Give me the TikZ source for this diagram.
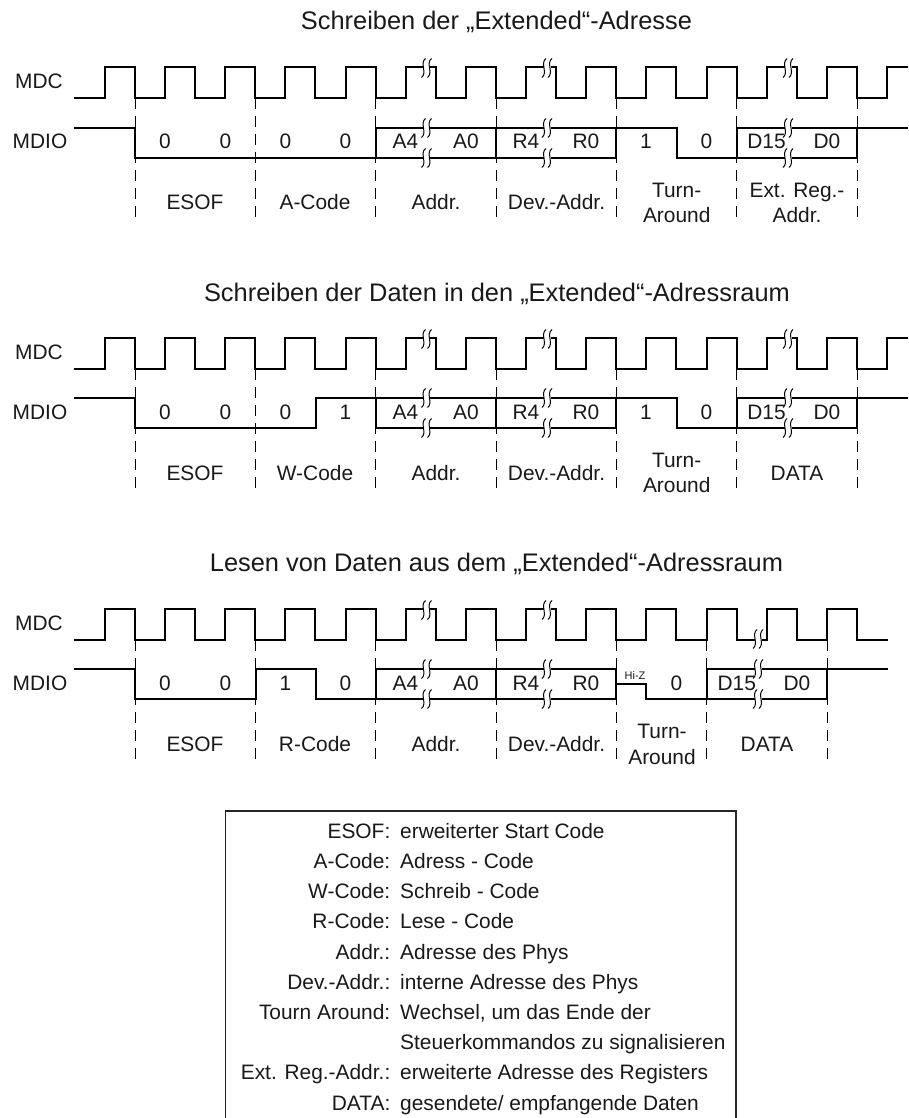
\documentclass[tikz,border=0pt]{standalone}
\usepackage{fontspec}
\setmainfont{Liberation Sans}
\newcommand{\BrkM}[2]{% x, y centre of a break mark
  \fill[white] ({#1-3},{#2-3}) rectangle ({#1+3.5},{#2+3});
  \draw[brk] ({#1-1},{#2-9.5}) .. controls ({#1-7},{#2-5}) and ({#1+1},{#2+5}) .. ({#1-5},{#2+9.5});
  \draw[brk] ({#1+5},{#2-9.5}) .. controls ({#1-1},{#2-5}) and ({#1+7},{#2+5}) .. ({#1+1},{#2+9.5});
}
\newcommand{\ClockTrain}{%
  (74,31) \foreach \n in {-1,1,...,23} { -- ({135+30.08*\n},31) -- ({135+30.08*\n},0) -- ({135+30.08*(\n+1)},0) -- ({135+30.08*(\n+1)},31) }%
}
\tikzset{
  sig/.style={line width=2pt,line join=miter,line cap=butt},
  sep/.style={line width=1pt,dash pattern=on 11pt off 7pt},
  brk/.style={line width=1pt},
  txt/.style={inner sep=0pt,anchor=base,font=\fontsize{20.9}{24}\selectfont,text=black!90},
  ttl/.style={txt,font=\fontsize{25.4}{30}\selectfont},
  ltxt/.style={txt,anchor=base west},
  rtxt/.style={txt,anchor=base east},
  hiz/.style={txt,font=\fontsize{11}{12}\selectfont},
  legendbox/.style={line width=1.2pt,draw=black!85},
}
\begin{document}
\begin{tikzpicture}[x=1pt,y=-1pt]
\useasboundingbox (0,0) rectangle (908,1118);

% ---------- Panel 1 ----------
\node[ttl] (title1) at (496.5,29.3) {Schreiben der „Extended“-Adresse};
\begin{scope}[shift={(0,67)}]
  \node[ltxt] (mdc1) at (15,21.5) {MDC};
  \node[ltxt] (mdio1) at (12.5,81.5) {MDIO};
  \foreach \x in {135,255.5,375.5,496,616,736.5,857} \draw[sep] (\x,31) -- (\x,151);
  \draw[sig] \ClockTrain -- (887,31) -- (887,0) -- (908,0);
  \draw[sig] (74,61) -- (135,61) -- (135,91) -- (616,91) -- (616,61) -- (676.5,61) -- (676.5,91) -- (857,91) -- (857,61) -- (908,61);
  \draw[sig] (375.5,91) -- (375.5,61) -- (616,61);
  \draw[sig] (496,61) -- (496,91);
  \draw[sig] (736.5,91) -- (736.5,61) -- (857,61);
  \foreach \x in {426.5,547,788} {\BrkM{\x}{1} \BrkM{\x}{61} \BrkM{\x}{91}}
  \foreach \x/\t/\m in {165/0/a,225.5/0/b,285.5/0/c,345.5/0/d,405.5/A4/e,466/A0/f,526/R4/g,586/R0/h,646/1/i,706.5/0/j,766.5/D15/k,827/D0/l}
    \node[txt] (bit1\m) at (\x,81.5) {\t};
  \node[txt] (lab1a) at (195,142.5) {ESOF};
  \node[txt] (lab1b) at (315,142.5) {A-Code};
  \node[txt] (lab1c) at (436,142.5) {Addr.};
  \node[txt] (lab1d) at (556.5,142.5) {Dev.-Addr.};
  \node[txt] (lab1e) at (676.7,130) {Turn-};
  \node[txt] (lab1f) at (676.7,155) {Around};
  \node[txt] (lab1g) at (797,130) {Ext. Reg.-};
  \node[txt] (lab1h) at (797,155) {Addr.};
\end{scope}

% ---------- Panel 2 ----------
\node[ttl] (title2) at (497,301.5) {Schreiben der Daten in den „Extended“-Adressraum};
\begin{scope}[shift={(0,338)}]
  \node[ltxt] (mdc2) at (15,21.5) {MDC};
  \node[ltxt] (mdio2) at (12.5,81.5) {MDIO};
  \foreach \x in {135,255.5,375.5,496,616,736.5,857} \draw[sep] (\x,31) -- (\x,151);
  \draw[sig] \ClockTrain -- (887,31) -- (887,0) -- (908,0);
  \draw[sig] (74,60) -- (135,60) -- (135,90) -- (315.5,90) -- (315.5,60) -- (676.5,60) -- (676.5,90) -- (857,90) -- (857,60) -- (908,60);
  \draw[sig] (375.5,60) -- (375.5,90) -- (616,90) -- (616,60);
  \draw[sig] (496,60) -- (496,90);
  \draw[sig] (736.5,90) -- (736.5,60) -- (857,60);
  \foreach \x in {426.5,547,788} {\BrkM{\x}{1} \BrkM{\x}{60} \BrkM{\x}{90}}
  \foreach \x/\t/\m in {165/0/a,225.5/0/b,285.5/0/c,345.5/1/d,405.5/A4/e,466/A0/f,526/R4/g,586/R0/h,646/1/i,706.5/0/j,766.5/D15/k,827/D0/l}
    \node[txt] (bit2\m) at (\x,81.5) {\t};
  \node[txt] (lab2a) at (195,142) {ESOF};
  \node[txt] (lab2b) at (315,142) {W-Code};
  \node[txt] (lab2c) at (436,142) {Addr.};
  \node[txt] (lab2d) at (556.5,142) {Dev.-Addr.};
  \node[txt] (lab2e) at (676.7,129.5) {Turn-};
  \node[txt] (lab2f) at (676.7,154.7) {Around};
  \node[txt] (lab2g) at (797,142) {DATA};
\end{scope}

% ---------- Panel 3 ----------
\node[ttl] (title3) at (496.5,571.7) {Lesen von Daten aus dem „Extended“-Adressraum};
\begin{scope}[shift={(0,609)}]
  \node[ltxt] (mdc3) at (15,21.5) {MDC};
  \node[ltxt] (mdio3) at (12.5,81.5) {MDIO};
  \foreach \x in {135,255.5,375.5,496,616,706.5,827} \draw[sep] (\x,31) -- (\x,151);
  \draw[sig] \ClockTrain -- (888,31);
  \draw[sig] (74,60) -- (135,60) -- (135,90) -- (255.5,90) -- (255.5,60) -- (315.5,60) -- (315.5,90) -- (375.5,90) -- (375.5,60) -- (616,60) -- (616,75) -- (646,75) -- (646,90) -- (706.5,90) -- (706.5,60) -- (888,60);
  \draw[sig] (375.5,90) -- (616,90) -- (616,75);
  \draw[sig] (496,60) -- (496,90);
  \draw[sig] (706.5,90) -- (827,90) -- (827,60);
  \foreach \x in {426.5,547} {\BrkM{\x}{1} \BrkM{\x}{60} \BrkM{\x}{90}}
  \BrkM{758}{30} \BrkM{758}{60} \BrkM{758}{90}
  \foreach \x/\t/\m in {165/0/a,225.5/0/b,285.5/1/c,345.5/0/d,405.5/A4/e,466/A0/f,526/R4/g,586/R0/h,676.5/0/j,736.7/D15/k,797/D0/l}
    \node[txt] (bit3\m) at (\x,81.5) {\t};
  \node[hiz] (hiz3) at (635,70) {Hi-Z};
  \node[txt] (lab3a) at (195,142) {ESOF};
  \node[txt] (lab3b) at (315,142) {R-Code};
  \node[txt] (lab3c) at (436,142) {Addr.};
  \node[txt] (lab3d) at (556.5,142) {Dev.-Addr.};
  \node[txt] (lab3e) at (662,129.3) {Turn-};
  \node[txt] (lab3f) at (662,155) {Around};
  \node[txt] (lab3g) at (767,142) {DATA};
\end{scope}

% ---------- Legend ----------
\draw[legendbox] (225.5,1118) -- (225.5,811) -- (736,811) -- (736,1118);
\foreach \i/\a/\b in {0/ESOF:/erweiterter Start Code,
                      1/A-Code:/Adress - Code,
                      2/W-Code:/Schreib - Code,
                      3/R-Code:/Lese - Code,
                      4/Addr.:/Adresse des Phys,
                      5/Dev.-Addr.:/interne Adresse des Phys,
                      6/Tourn Around:/{Wechsel, um das Ende der},
                      8/Ext. Reg.-Addr.:/erweiterte Adresse des Registers}{
  \node[rtxt] (legk\i) at (390.5,{838.3+30.2*\i}) {\a};
  \node[ltxt] (legv\i) at (400,{838.3+30.2*\i}) {\b};
}
\node[ltxt] (legv7) at (400,{838.3+30.2*7}) {Steuerkommandos zu signalisieren};
\node[rtxt] (legk9) at (390.5,{838.3+30.2*9}) {DATA:};
\node[ltxt] (legv9) at (400,{838.3+30.2*9}) {gesendete/ empfangende Daten};
\end{tikzpicture}
\end{document}
